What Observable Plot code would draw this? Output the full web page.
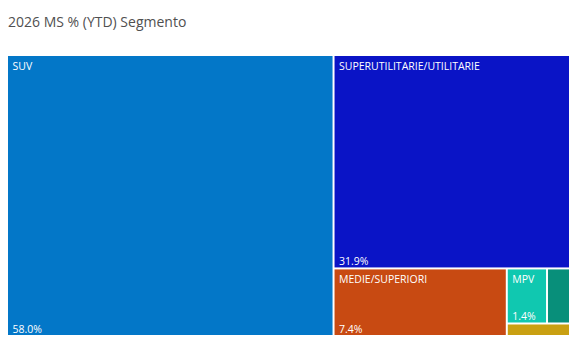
<!DOCTYPE html>
<html>
<head>
<meta charset="utf-8">
<script src="https://cdn.jsdelivr.net/npm/d3@7"></script>
<script src="https://cdn.jsdelivr.net/npm/@observablehq/plot@0.6"></script>
<style>
  html, body { margin: 0; padding: 0; background: #fff; }
  #wrap { width: 576px; height: 353px; position: relative; overflow: hidden; }
  #title { position: absolute; left: 8px; top: 12px; font-family: "Open Sans", sans-serif; font-size: 14px; color: #505050; }
  #chart { position: absolute; left: 0; top: 48px; }
</style>
</head>
<body>
<div id="wrap">
  <div id="title">2026 MS % (YTD) Segmento</div>
  <div id="chart"></div>
</div>
<script>
const categories = ["SUV", "SUPERUTILITARIE/UTILITARIE", "MEDIE/SUPERIORI", "MPV", "ALTRO", "ALTRO 2"];
const shares = [58.0, 31.9, 7.4, 1.4, 0.8, 0.5];
const colors = ["#0377C8", "#0A14C6", "#C84A12", "#10C8B0", "#088F7A", "#C9A012"];

const W = 561, H = 279;
const root = d3.hierarchy({children: categories.map((c, i) => ({name: c, value: shares[i], color: colors[i]}))})
  .sum(d => d.value || 0)
  .sort((a, b) => b.value - a.value);
d3.treemap().size([W, H]).paddingInner(2).tile(d3.treemapSquarify)(root);
const tiles = root.leaves().map(l => ({
  name: l.data.name, value: l.data.value, color: l.data.color,
  x0: l.x0, x1: l.x1, y0: l.y0, y1: l.y1
}));
const labeled = tiles.filter(t => (t.x1 - t.x0) > 30 && (t.y1 - t.y0) > 30);

const plot = Plot.plot({
  width: 576,
  height: 305,
  marginLeft: 8, marginRight: 7, marginTop: 8, marginBottom: 18,
  x: {domain: [0, W], axis: null},
  y: {domain: [0, H], axis: null, reverse: false, range: [8, 287]},
  style: {fontFamily: "Open Sans, sans-serif", background: "#fff"},
  marks: [
    Plot.rect(tiles, {x1: "x0", x2: "x1", y1: "y0", y2: "y1", fill: "color"}),
    Plot.text(labeled, {x: "x0", y: "y0", text: "name", dx: 4, dy: 6, textAnchor: "start", lineAnchor: "top", fill: "white", fontSize: 10.5}),
    Plot.text(labeled, {x: "x0", y: "y1", text: d => d.value.toFixed(1) + "%", dx: 4, dy: -3, textAnchor: "start", lineAnchor: "bottom", fill: "white", fontSize: 10.5})
  ]
});
document.getElementById("chart").appendChild(plot);
</script>
</body>
</html>
